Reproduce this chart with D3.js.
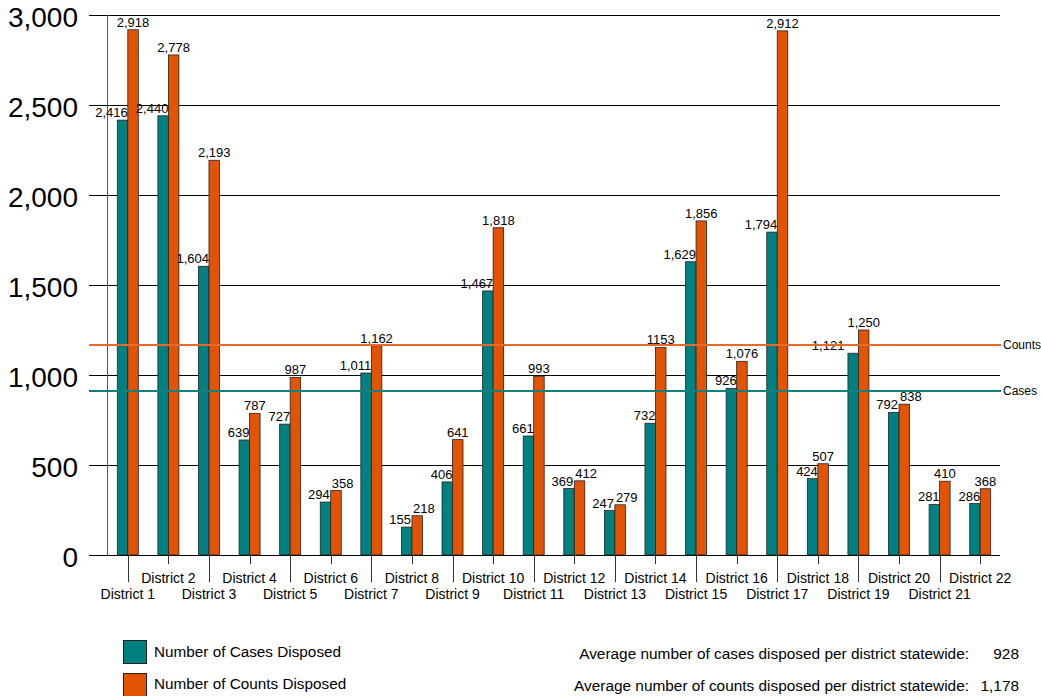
<!DOCTYPE html>
<html>
<head>
<meta charset="utf-8">
<script src="https://cdn.jsdelivr.net/npm/d3@7"></script>
<style>
    body { margin: 0; background: #fff; }
    svg { display: block; font-family: 'Liberation Sans', Arial, sans-serif; }
</style>
</head>
<body>
<svg width="1041" height="696"></svg>
<script>
// data
const districts = d3.range(1, 23).map(i => `District ${i}`);
const casesDisposed = [2416, 2440, 1604, 639, 727, 294, 1011, 155, 406, 1467, 661,
    369, 247, 732, 1629, 926, 1794, 424, 1121, 792, 281, 286];
const countsDisposed = [2918, 2778, 2193, 787, 987, 358, 1162, 218, 641, 1818, 993,
    412, 279, 1153, 1856, 1076, 2912, 507, 1250, 838, 410, 368];
const yTicks = [0, 500, 1000, 1500, 2000, 2500, 3000];
const avgCases = 928;
const avgCounts = 1178;
// reference lines as drawn in the picture
const caseLineValue = 911;
const countLineValue = 1166;
const seriesNames = ['Number of Cases Disposed', 'Number of Counts Disposed'];

const teal = '#008080';
const orange = '#E25303';

const svg = d3.select('svg');
const fmt = d3.format(',');

const yScale = d3.scaleLinear().domain([0, 3000]).range([555, 15]);
const xScale = d3.scaleBand().domain(districts).range([107.5, 1000.5]);
const barW = 10.5;
const center = d => xScale(d) + xScale.bandwidth() / 2;

// gridlines
svg.append('g').selectAll('line').data(yTicks)
    .enter().append('line')
    .attr('x1', 89).attr('x2', 1000)
    .attr('y1', d => yScale(d) + 0.5).attr('y2', d => yScale(d) + 0.5)
    .attr('stroke', '#000').attr('stroke-width', 1);

// y tick labels
svg.append('g').selectAll('text').data(yTicks)
    .enter().append('text')
    .attr('x', 78).attr('y', d => yScale(d) + 12)
    .attr('text-anchor', 'end')
    .style('font-size', '28px')
    .text(d => fmt(d));

// vertical axis line
svg.append('line')
    .attr('x1', 107.5).attr('x2', 107.5)
    .attr('y1', yScale(3000)).attr('y2', yScale(0))
    .attr('stroke', '#555');

// x ticks and labels
const xg = svg.append('g');
districts.forEach((d, i) => {
    const odd = i % 2 === 0;
    const cx = Math.round(center(d)) + 0.5;
    xg.append('line')
        .attr('x1', cx).attr('x2', cx)
        .attr('y1', yScale(0)).attr('y2', odd ? 582 : 564)
        .attr('stroke', '#333');
    xg.append('text')
        .attr('x', center(d)).attr('y', odd ? 599 : 583)
        .attr('text-anchor', 'middle')
        .style('font-size', '14px')
        .text(d);
});

// bars
const bars = svg.append('g');
bars.selectAll('rect.cases').data(districts)
    .enter().append('rect')
    .attr('class', 'cases')
    .attr('x', d => center(d) - barW)
    .attr('y', (d, i) => yScale(casesDisposed[i]))
    .attr('width', barW)
    .attr('height', (d, i) => yScale(0) - yScale(casesDisposed[i]))
    .attr('fill', teal).attr('stroke', '#222').attr('stroke-width', 0.8);

bars.selectAll('rect.counts').data(districts)
    .enter().append('rect')
    .attr('class', 'counts')
    .attr('x', d => center(d))
    .attr('y', (d, i) => yScale(countsDisposed[i]))
    .attr('width', barW)
    .attr('height', (d, i) => yScale(0) - yScale(countsDisposed[i]))
    .attr('fill', orange).attr('stroke', '#222').attr('stroke-width', 0.8);

// value labels, nudged apart where they would collide
const lab = svg.append('g').style('font-size', '13px');
districts.forEach((d, i) => {
    const c = center(d);
    const gap = yScale(casesDisposed[i]) - yScale(countsDisposed[i]);
    const countText = countsDisposed[i] === 1153 ? '1153' : fmt(countsDisposed[i]);
    const ct = lab.append('text')
        .attr('y', yScale(countsDisposed[i]) - 3)
        .text(countText);
    const cw = ct.node().getComputedTextLength();
    let countX = c + barW / 2 - cw / 2;
    let caseEnd = c;
    const overlap = caseEnd - countX;
    if (gap < 12) {
        countX = c + 1;
        caseEnd = c - 1;
    } else if (gap < 25 && overlap > 8) {
        caseEnd = countX - 3;
    }
    ct.attr('x', countX);
    lab.append('text')
        .attr('x', caseEnd)
        .attr('y', yScale(casesDisposed[i]) - 3)
        .attr('text-anchor', 'end')
        .text(fmt(casesDisposed[i]));
});

// average lines
const avg = [
    { v: countLineValue, color: '#E86A2A', name: 'Counts' },
    { v: caseLineValue, color: '#12807C', name: 'Cases' }
];
avg.forEach(a => {
    svg.append('line')
        .attr('x1', 89).attr('x2', 1001)
        .attr('y1', yScale(a.v)).attr('y2', yScale(a.v))
        .attr('stroke', a.color).attr('stroke-width', 2);
    svg.append('text')
        .attr('x', 1003).attr('y', yScale(a.v) + 4)
        .style('font-size', '12px')
        .text(a.name);
});

// legend
const legend = svg.append('g');
[teal, orange].forEach((col, i) => {
    legend.append('rect')
        .attr('x', 123.5).attr('y', 640.5 + i * 33)
        .attr('width', 23).attr('height', 23)
        .attr('fill', col).attr('stroke', '#222');
    legend.append('text')
        .attr('x', 154).attr('y', 657 + i * 32)
        .style('font-size', '15.3px')
        .text(seriesNames[i]);
});

// averages text
const notes = [
    ['Average number of cases disposed per district statewide:', fmt(avgCases)],
    ['Average number of counts disposed per district statewide:', fmt(avgCounts)]
];
notes.forEach((n, i) => {
    svg.append('text')
        .attr('x', 969).attr('y', 659 + i * 32)
        .attr('text-anchor', 'end')
        .style('font-size', '15.4px')
        .text(n[0]);
    svg.append('text')
        .attr('x', 1019).attr('y', 659 + i * 32)
        .attr('text-anchor', 'end')
        .style('font-size', '15.4px')
        .text(n[1]);
});
</script>
</body>
</html>
